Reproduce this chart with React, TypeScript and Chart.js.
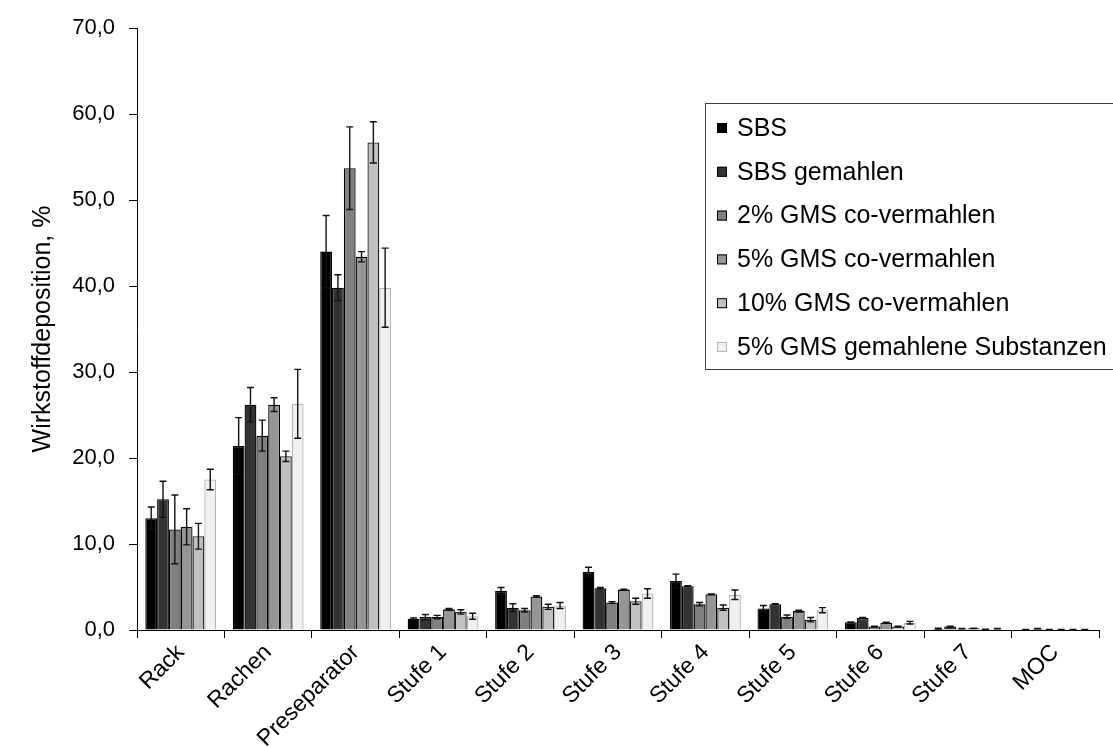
import React, { useEffect, useRef } from "react";
import { Chart, registerables } from "chart.js";

Chart.register(...registerables);

const categories = ["Rack", "Rachen", "Preseparator", "Stufe 1", "Stufe 2", "Stufe 3", "Stufe 4", "Stufe 5", "Stufe 6", "Stufe 7", "MOC"];
const seriesNames = ["SBS", "SBS gemahlen", "2% GMS co-vermahlen", "5% GMS co-vermahlen", "10% GMS co-vermahlen", "5% GMS gemahlene Substanzen"];

const sbs = [13.0, 21.4, 44.0, 1.3, 4.55, 6.75, 5.7, 2.5, 0.9, 0.15, 0.05];
const sbsErr = [1.3, 3.3, 4.2, 0.1, 0.4, 0.55, 0.8, 0.35, 0.05, 0.05, 0.02];
const sbsGem = [15.2, 26.2, 39.8, 1.5, 2.6, 4.85, 5.1, 3.0, 1.4, 0.4, 0.15];
const sbsGemErr = [2.1, 2.0, 1.5, 0.3, 0.45, 0.1, 0.05, 0.05, 0.05, 0.05, 0.02];
const gms2 = [11.7, 22.6, 53.7, 1.5, 2.3, 3.2, 3.0, 1.55, 0.4, 0.15, 0.05];
const gms2Err = [4.0, 1.8, 4.8, 0.2, 0.2, 0.1, 0.2, 0.2, 0.05, 0.02, 0.02];
const gms5 = [12.0, 26.2, 43.4, 2.4, 3.9, 4.7, 4.15, 2.2, 0.85, 0.2, 0.05];
const gms5Err = [2.1, 0.8, 0.6, 0.1, 0.1, 0.05, 0.05, 0.1, 0.05, 0.02, 0.02];
const gms10 = [10.9, 20.2, 56.7, 2.1, 2.7, 3.35, 2.6, 1.2, 0.4, 0.08, 0.05];
const gms10Err = [1.5, 0.6, 2.4, 0.25, 0.3, 0.35, 0.3, 0.25, 0.05, 0.02, 0.02];
const gms5Sub = [17.5, 26.3, 39.8, 1.6, 2.85, 4.25, 4.1, 2.3, 0.85, 0.15, 0.05];
const gms5SubErr = [1.2, 4.0, 4.6, 0.35, 0.35, 0.55, 0.55, 0.3, 0.15, 0.02, 0.02];

const seriesValues = [sbs, sbsGem, gms2, gms5, gms10, gms5Sub];
const seriesErrors = [sbsErr, sbsGemErr, gms2Err, gms5Err, gms10Err, gms5SubErr];
const fillColors = ["#000000", "#333333", "#808080", "#969696", "#c0c0c0", "#f0f0f0"];
const borderColors = ["#000000", "#000000", "#000000", "#000000", "#1a1a1a", "#b3b3b3"];

const yMin = 0;
const yMax = 70;
const yStep = 10;
const yTitle = "Wirkstoffdeposition, %";

const FONT = "'Liberation Sans', Arial, sans-serif";

const errorBarPlugin = {
  id: "errorBars",
  afterDatasetsDraw(chart: any) {
    const ctx = chart.ctx;
    const y = chart.scales.y;
    chart.data.datasets.forEach((ds: any, i: number) => {
      const meta = chart.getDatasetMeta(i);
      meta.data.forEach((bar: any, j: number) => {
        const v = ds.data[j];
        const e = ds.errors[j];
        const yTop = y.getPixelForValue(v + e);
        const yBot = y.getPixelForValue(Math.max(0, v - e));
        const cap = 3.5;
        ctx.save();
        ctx.strokeStyle = "#111111";
        ctx.lineWidth = 1.4;
        ctx.beginPath();
        ctx.moveTo(bar.x, yTop);
        ctx.lineTo(bar.x, yBot);
        ctx.moveTo(bar.x - cap, yTop);
        ctx.lineTo(bar.x + cap, yTop);
        ctx.moveTo(bar.x - cap, yBot);
        ctx.lineTo(bar.x + cap, yBot);
        ctx.stroke();
        ctx.restore();
      });
    });
  },
};

const legendPlugin = {
  id: "boxLegend",
  afterDraw(chart: any) {
    const ctx = chart.ctx;
    const left = 705;
    const top = 103;
    const bottom = 369;
    const rowStart = 128;
    const rowGap = 43.8;
    ctx.save();
    ctx.fillStyle = "#ffffff";
    ctx.fillRect(left, top, chart.width - left + 10, bottom - top);
    ctx.strokeStyle = "#404040";
    ctx.lineWidth = 1;
    ctx.strokeRect(left + 0.5, top + 0.5, chart.width - left + 10, bottom - top);
    ctx.font = `25px ${FONT}`;
    ctx.textBaseline = "middle";
    ctx.textAlign = "left";
    chart.data.datasets.forEach((ds: any, i: number) => {
      const cy = rowStart + i * rowGap;
      ctx.fillStyle = ds.backgroundColor;
      ctx.fillRect(717, cy - 5, 10, 10);
      ctx.strokeStyle = i === 5 ? "#b3b3b3" : "#000000";
      ctx.strokeRect(717.5, cy - 4.5, 9, 9);
      ctx.fillStyle = "#000000";
      ctx.fillText(ds.label, 737, cy + 1);
    });
    ctx.restore();
  },
};

export default function App() {
  const ref = useRef<HTMLCanvasElement>(null);
  useEffect(() => {
    if (!ref.current) return;
    const chart = new Chart(ref.current, {
      type: "bar",
      data: {
        labels: categories,
        datasets: seriesNames.map((name, i) => ({
          label: name,
          data: seriesValues[i],
          errors: seriesErrors[i],
          backgroundColor: fillColors[i],
          borderColor: borderColors[i],
          borderWidth: 1.3,
          categoryPercentage: 0.81,
          barPercentage: 1.0,
        })) as any,
      },
      options: {
        responsive: false,
        animation: false,
        devicePixelRatio: 1,
        layout: { padding: { top: 28, right: 14, left: 0, bottom: 0 } },
        plugins: { legend: { display: false }, tooltip: { enabled: false } },
        scales: {
          x: {
            afterFit: (s: any) => { s.height = 117; },
            grid: { offset: true, drawOnChartArea: false, tickLength: 8, color: "#000000" },
            border: { color: "#000000", width: 1 },
            ticks: {
              autoSkip: false,
              maxRotation: 45,
              minRotation: 45,
              padding: 1,
              color: "#000000",
              font: { family: FONT, size: 23 },
            },
          },
          y: {
            min: yMin,
            max: yMax,
            afterFit: (s: any) => { s.width = 137; },
            grid: { drawOnChartArea: false, tickLength: 8, color: "#000000" },
            border: { color: "#000000", width: 1 },
            ticks: {
              stepSize: yStep,
              padding: 14,
              color: "#000000",
              font: { family: FONT, size: 22 },
              callback: (v: any) => Number(v).toFixed(1).replace(".", ","),
            },
            title: {
              display: true,
              text: yTitle,
              color: "#000000",
              font: { family: FONT, size: 25 },
              padding: { top: 28, bottom: 0 },
            },
          },
        },
      },
      plugins: [errorBarPlugin, legendPlugin],
    });
    return () => chart.destroy();
  }, []);
  return (
    <div style={{ position: "absolute", left: 0, top: 0, width: 1113, height: 747, background: "#ffffff" }}>
      <canvas ref={ref} width={1113} height={747} />
    </div>
  );
}
